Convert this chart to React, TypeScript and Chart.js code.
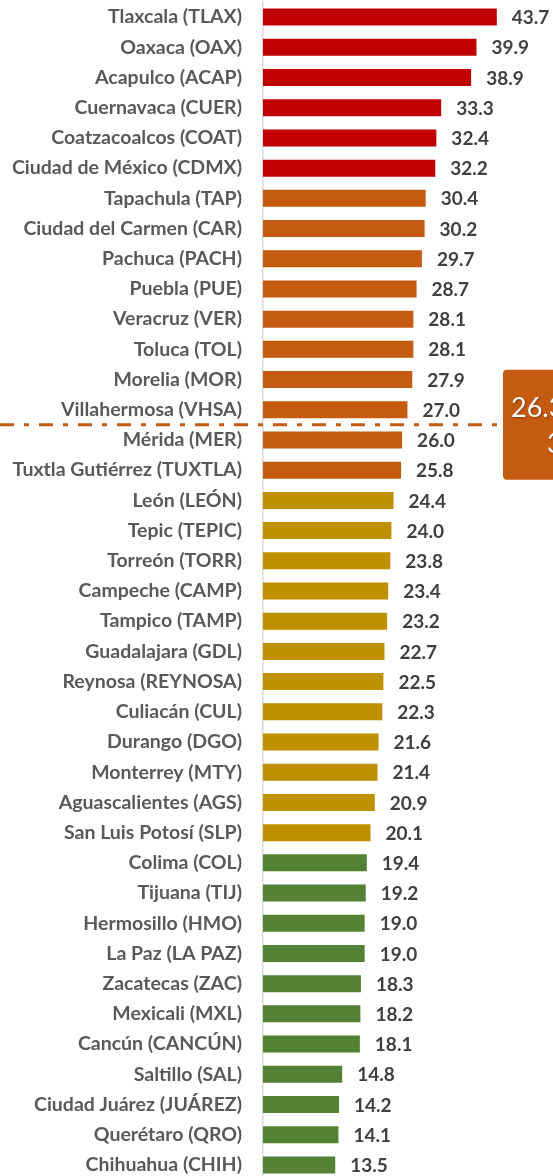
import React, { useEffect, useRef } from "react";
import { Chart, registerables } from "chart.js";

Chart.register(...registerables);

const categories = [
  "Tlaxcala (TLAX)", "Oaxaca (OAX)", "Acapulco (ACAP)", "Cuernavaca (CUER)", "Coatzacoalcos (COAT)",
  "Ciudad de México (CDMX)", "Tapachula (TAP)", "Ciudad del Carmen (CAR)", "Pachuca (PACH)", "Puebla (PUE)",
  "Veracruz (VER)", "Toluca (TOL)", "Morelia (MOR)", "Villahermosa (VHSA)", "Mérida (MER)",
  "Tuxtla Gutiérrez (TUXTLA)", "León (LEÓN)", "Tepic (TEPIC)", "Torreón (TORR)", "Campeche (CAMP)",
  "Tampico (TAMP)", "Guadalajara (GDL)", "Reynosa (REYNOSA)", "Culiacán (CUL)", "Durango (DGO)",
  "Monterrey (MTY)", "Aguascalientes (AGS)", "San Luis Potosí (SLP)", "Colima (COL)", "Tijuana (TIJ)",
  "Hermosillo (HMO)", "La Paz (LA PAZ)", "Zacatecas (ZAC)", "Mexicali (MXL)", "Cancún (CANCÚN)",
  "Saltillo (SAL)", "Ciudad Juárez (JUÁREZ)", "Querétaro (QRO)", "Chihuahua (CHIH)",
];

const values = [
  43.7, 39.9, 38.9, 33.3, 32.4, 32.2, 30.4, 30.2, 29.7, 28.7,
  28.1, 28.1, 27.9, 27.0, 26.0, 25.8, 24.4, 24.0, 23.8, 23.4,
  23.2, 22.7, 22.5, 22.3, 21.6, 21.4, 20.9, 20.1, 19.4, 19.2,
  19.0, 19.0, 18.3, 18.2, 18.1, 14.8, 14.2, 14.1, 13.5,
];

// number of consecutive cities in each colour group
const groupSizes = [6, 10, 12, 11];
const groupColors = ["#C00000", "#C55A11", "#BF9000", "#548235"];

const averageValue = 26.3;
const averageLabel = "26.3";
const averageSecondLine = "3";

const FONT = "Lato, 'Noto Sans', sans-serif";

function barColors(): string[] {
  const out: string[] = [];
  groupSizes.forEach((n, g) => {
    for (let i = 0; i < n; i++) out.push(groupColors[g]);
  });
  return out;
}

const valueLabelPlugin = {
  id: "valueLabels",
  afterDatasetsDraw(chart: any) {
    const ctx = chart.ctx;
    const meta = chart.getDatasetMeta(0);
    ctx.save();
    ctx.font = `700 19px ${FONT}`;
    ctx.fillStyle = "#404040";
    ctx.textAlign = "left";
    ctx.textBaseline = "middle";
    meta.data.forEach((bar: any, i: number) => {
      ctx.fillText(values[i].toFixed(1), bar.x + 15, bar.y + 1);
    });
    ctx.restore();
  },
};

const averagePlugin = {
  id: "averageLine",
  afterDraw(chart: any) {
    const ctx = chart.ctx;
    const y = chart.scales.y;
    // the average falls between Villahermosa (27.0) and Mérida (26.0)
    const idx = values.findIndex((v) => v < averageValue);
    const py = (y.getPixelForValue(idx - 1) + y.getPixelForValue(idx)) / 2;
    const boxLeft = chart.chartArea.right - 50;
    ctx.save();
    ctx.strokeStyle = "#C55A11";
    ctx.lineWidth = 3;
    ctx.setLineDash([14, 10, 5, 10]);
    ctx.beginPath();
    ctx.moveTo(0, py);
    ctx.lineTo(boxLeft, py);
    ctx.stroke();
    ctx.setLineDash([]);
    // label box
    const top = py - 55;
    const h = 110;
    ctx.fillStyle = "#C55A11";
    ctx.beginPath();
    (ctx as any).roundRect(boxLeft, top, 120, h, 4);
    ctx.fill();
    ctx.fillStyle = "#ffffff";
    ctx.font = `400 27px ${FONT}`;
    ctx.textBaseline = "middle";
    ctx.textAlign = "left";
    ctx.shadowColor = "rgba(0,0,0,0.35)";
    ctx.shadowBlur = 2;
    ctx.shadowOffsetX = 1;
    ctx.shadowOffsetY = 1;
    ctx.fillText(averageLabel, boxLeft + 8, py - 17);
    ctx.fillText(averageSecondLine, boxLeft + 44, py + 19);
    ctx.restore();
  },
};

export default function App() {
  const ref = useRef<HTMLCanvasElement>(null);
  useEffect(() => {
    if (!ref.current) return;
    const chart = new Chart(ref.current, {
      type: "bar",
      data: {
        labels: categories,
        datasets: [
          {
            data: values,
            backgroundColor: barColors(),
            borderWidth: 0,
            categoryPercentage: 1,
            barPercentage: 0.563,
          },
        ],
      },
      options: {
        indexAxis: "y",
        animation: false,
        responsive: false,
        events: [],
        layout: { padding: { top: 2, bottom: 2, left: 0, right: 0 } },
        plugins: { legend: { display: false }, tooltip: { enabled: false } },
        scales: {
          x: { display: false, min: 0, max: 54.2 },
          y: {
            afterFit(scale: any) {
              scale.width = 263;
              scale.paddingTop = 0;
              scale.paddingBottom = 0;
            },
            grid: { display: false, drawTicks: false },
            border: { display: true, color: "#D9D9D9", width: 1.5 },
            ticks: {
              padding: 21,
              color: "#595959",
              font: { family: FONT, size: 19.5, weight: "bold" },
              autoSkip: false,
            },
          },
        },
      },
      plugins: [valueLabelPlugin, averagePlugin],
    });
    return () => chart.destroy();
  }, []);
  return (
    <div style={{ position: "fixed", top: 0, left: 0, width: 553, height: 1176, overflow: "hidden", background: "#fff" }}>
      <canvas ref={ref} width={553} height={1182} style={{ display: "block" }} />
    </div>
  );
}
